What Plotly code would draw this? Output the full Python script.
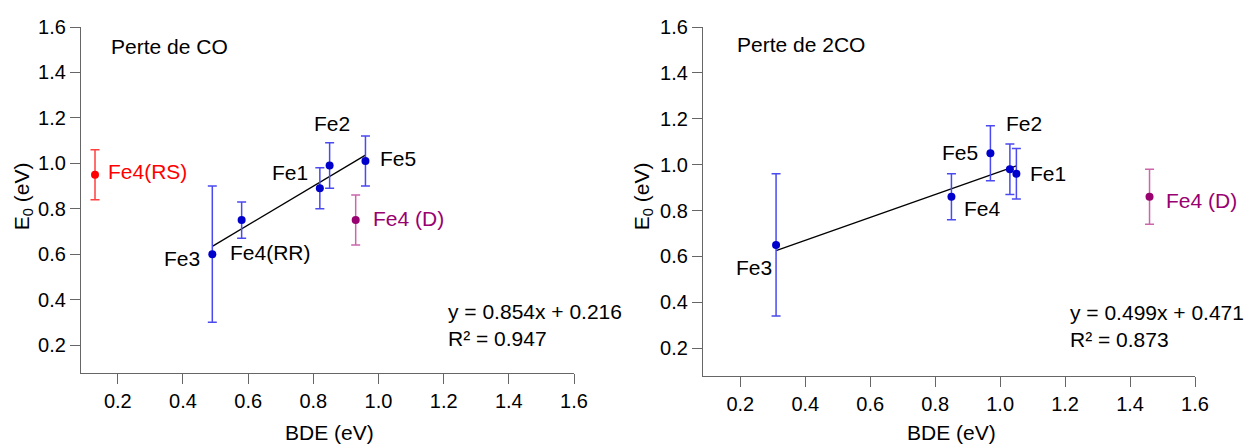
import plotly.graph_objects as go

# Perte de CO
co_labels = ["Fe3", "Fe4(RR)", "Fe1", "Fe2", "Fe5"]
co_bde = [0.49, 0.58, 0.82, 0.85, 0.96]
co_e0 = [0.60, 0.75, 0.89, 0.99, 1.01]
co_err = [0.30, 0.08, 0.09, 0.10, 0.11]
co_rs_bde, co_rs_e0, co_rs_err = [0.13], [0.95], [0.11]
co_d_bde, co_d_e0, co_d_err = [0.93], [0.75], [0.11]
co_fit = (0.854, 0.216, 0.947)

# Perte de 2CO
co2_labels = ["Fe3", "Fe4", "Fe5", "Fe2", "Fe1"]
co2_bde = [0.31, 0.85, 0.97, 1.03, 1.05]
co2_e0 = [0.65, 0.86, 1.05, 0.98, 0.96]
co2_err = [0.31, 0.10, 0.12, 0.11, 0.11]
co2_d_bde, co2_d_e0, co2_d_err = [1.46], [0.86], [0.12]
co2_fit = (0.499, 0.471, 0.873)

ticks = [0.2, 0.4, 0.6, 0.8, 1.0, 1.2, 1.4, 1.6]

FONT = "Liberation Sans, Arial, sans-serif"
BLUE, BLUE_ERR = "#0000cc", "#4a4af0"
RED, RED_ERR = "#ff0000", "#ff4040"
PURP, PURP_ERR = "#990070", "#cc66aa"

W, H = 1245, 444
fig = go.Figure()


def points(x, y, err, color, ecolor, xa, ya):
    fig.add_trace(go.Scatter(
        x=x, y=y, mode="markers", xaxis=xa, yaxis=ya,
        marker=dict(color=color, size=8),
        error_y=dict(type="data", array=err, color=ecolor, thickness=1.5, width=4.5),
        showlegend=False, hoverinfo="skip"))


def fitline(x, fit, xa, ya):
    xs = [min(x), max(x)]
    fig.add_trace(go.Scatter(
        x=xs, y=[fit[0] * v + fit[1] for v in xs], mode="lines",
        xaxis=xa, yaxis=ya, line=dict(color="black", width=1.3),
        showlegend=False, hoverinfo="skip"))


fitline(co_bde, co_fit, "x", "y")
points(co_bde, co_e0, co_err, BLUE, BLUE_ERR, "x", "y")
points(co_rs_bde, co_rs_e0, co_rs_err, RED, RED_ERR, "x", "y")
points(co_d_bde, co_d_e0, co_d_err, PURP, PURP_ERR, "x", "y")

fitline(co2_bde, co2_fit, "x2", "y2")
points(co2_bde, co2_e0, co2_err, BLUE, BLUE_ERR, "x2", "y2")
points(co2_d_bde, co2_d_e0, co2_d_err, PURP, PURP_ERR, "x2", "y2")

ann = []


def label(text, x, y, xa, ya, anchor, dx, dy, color="black"):
    ann.append(dict(text=text, x=x, y=y, xref=xa, yref=ya, xanchor=anchor,
                    yanchor="middle", xshift=dx, yshift=dy, showarrow=False,
                    font=dict(size=21, color=color)))


# label offsets (px) for each point
co_offsets = [("right", -10, -4), ("left", -14, -32), ("right", -10, 16),
              ("center", 2, 42), ("left", 13, 3)]
for t, x, y, (a, dx, dy) in zip(co_labels, co_bde, co_e0, co_offsets):
    label(t, x, y, "x", "y", a, dx, dy)
label("Fe4(RS)", co_rs_bde[0], co_rs_e0[0], "x", "y", "left", 11, 3, RED)
label("Fe4 (D)", co_d_bde[0], co_d_e0[0], "x", "y", "left", 15, 2, PURP)

co2_offsets = [("right", -2, -23), ("left", 11, -12), ("right", -10, 1),
               ("left", -6, 46), ("left", 12, 0)]
for t, x, y, (a, dx, dy) in zip(co2_labels, co2_bde, co2_e0, co2_offsets):
    label(t, x, y, "x2", "y2", a, dx, dy)
label("Fe4 (D)", co2_d_bde[0], co2_d_e0[0], "x2", "y2", "left", 14, -4, PURP)

for xa, ya, title, fit, tx, ty, ex, ey in [
        ("x", "y", "Perte de CO", co_fit, 0.172, 1.516, 1.207, 0.29),
        ("x2", "y2", "Perte de 2CO", co2_fit, 0.184, 1.522, 1.208, 0.297)]:
    ann.append(dict(text=title, x=tx, y=ty, xref=xa, yref=ya, xanchor="left",
                    yanchor="middle", showarrow=False, font=dict(size=21)))
    ann.append(dict(text="y = %.3fx + %.3f<br>R² = %.3f" % fit, x=ex, y=ey,
                    xref=xa, yref=ya, xanchor="left", yanchor="middle",
                    align="left", showarrow=False, font=dict(size=21)))
    ann.append(dict(text="BDE (eV)", x=0.851, y=-0.163, xref=xa, yref="paper",
                    xanchor="center", yanchor="middle", showarrow=False,
                    font=dict(size=21)))

for px in (23, 643):
    ann.append(dict(text="E<sub>0</sub> (eV)", x=px / W, y=0.515, xref="paper",
                    yref="paper", textangle=-90, xanchor="center",
                    yanchor="middle", showarrow=False, font=dict(size=21)))

axis_style = dict(showline=True, linecolor="#666", linewidth=1.3, ticks="outside",
                  ticklen=10, tickcolor="#666", tickwidth=1.3, showgrid=False,
                  zeroline=False, tickvals=ticks, tickformat=".1f", automargin=False,
                  tickfont=dict(size=20, color="black"))

fig.update_layout(
    width=W, height=H, autosize=False,
    margin=dict(l=0, r=0, t=27, b=68, autoexpand=False),
    paper_bgcolor="white", plot_bgcolor="white",
    font=dict(family=FONT, color="black"),
    xaxis=dict(domain=[81 / W, 574 / W], range=[0.087, 1.6], anchor="y", **axis_style),
    yaxis=dict(domain=[3 / 349, 1], range=[0.077, 1.6], anchor="x", **axis_style),
    xaxis2=dict(domain=[703 / W, 1195 / W], range=[0.085, 1.6], anchor="y2", **axis_style),
    yaxis2=dict(domain=[0, 1], range=[0.079, 1.6], anchor="x2", **axis_style),
    annotations=ann,
)

# fixed size, no page margin / scrollbars, no modebar
fig.write_html(
    "out.html",
    config={"responsive": False, "displayModeBar": False},
    post_script="document.body.style.margin='0';document.body.style.overflow='hidden';",
)
